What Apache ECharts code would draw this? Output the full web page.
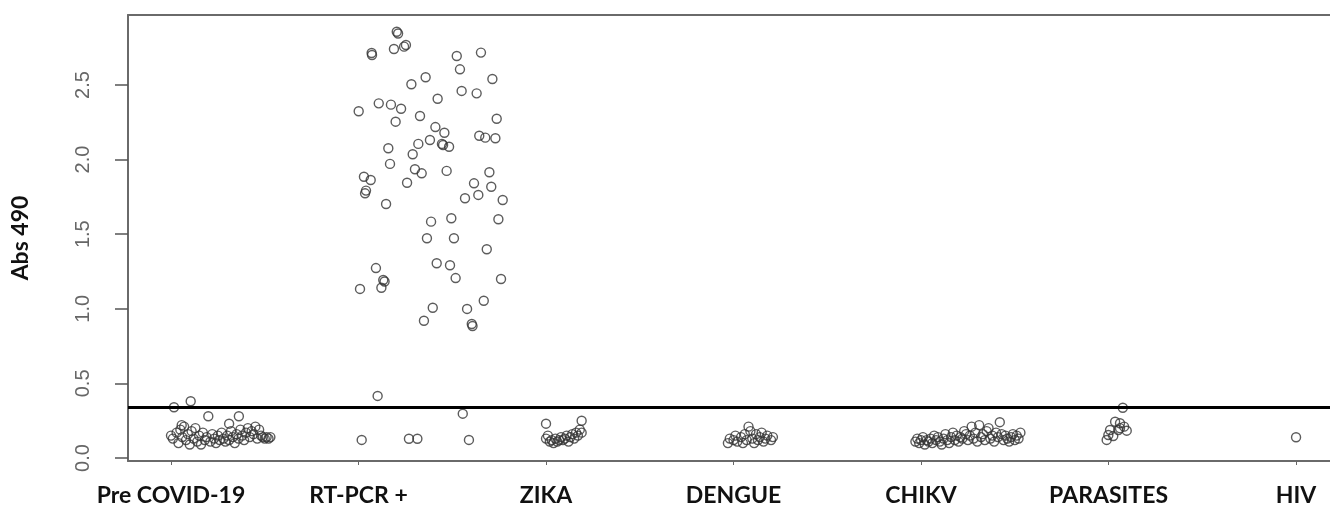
<!DOCTYPE html>
<html><head><meta charset="utf-8">
<script src="https://cdn.jsdelivr.net/npm/echarts@6/dist/echarts.min.js"></script>
<style>html,body{margin:0;padding:0;background:#fff}#c{width:1330px;height:508px}</style>
</head><body><div id="c"></div>
<script>
// Category labels and y ticks
const categories = ['Pre COVID-19', 'RT-PCR +', 'ZIKA', 'DENGUE', 'CHIKV', 'PARASITES', 'HIV'];
const yTicks = [0, 0.5, 1.0, 1.5, 2.0, 2.5];
const cutoff = 0.343;

// Each point: [jitter offset from category position, Abs 490 value]
const preCovid = [
  [0.016,0.34],[0.105,0.38],[0.199,0.28],[0.362,0.28],[0.31,0.23],[0.057,0.22],
  [0.00,0.15],[0.01,0.13],[0.03,0.17],[0.04,0.10],[0.05,0.19],[0.06,0.14],[0.07,0.21],[0.08,0.12],
  [0.09,0.16],[0.10,0.09],[0.11,0.18],[0.12,0.13],[0.13,0.20],[0.14,0.11],[0.15,0.15],[0.16,0.09],
  [0.17,0.17],[0.18,0.12],[0.19,0.14],[0.21,0.11],[0.22,0.16],[0.23,0.13],[0.24,0.10],[0.25,0.15],
  [0.26,0.12],[0.27,0.17],[0.28,0.13],[0.29,0.11],[0.30,0.15],[0.31,0.12],[0.32,0.18],[0.33,0.14],
  [0.34,0.10],[0.35,0.16],[0.36,0.13],[0.37,0.19],[0.38,0.15],[0.39,0.12],[0.40,0.17],[0.41,0.20],
  [0.42,0.14],[0.43,0.18],[0.44,0.16],[0.45,0.21],[0.46,0.13],[0.47,0.19],[0.48,0.15],[0.49,0.14],
  [0.50,0.13],[0.51,0.14],[0.52,0.13],[0.53,0.14]
];
const rtPcr = [
  [0.204,2.857],[0.211,2.845],[0.253,2.768],[0.243,2.757],[0.070,2.714],[0.072,2.701],[0.189,2.741],
  [0.524,2.694],[0.653,2.717],[0.541,2.605],[0.358,2.552],[0.282,2.505],[0.714,2.540],[0.550,2.460],
  [0.630,2.444],[0.422,2.408],[0.001,2.324],[0.108,2.377],[0.173,2.368],[0.227,2.341],[0.328,2.292],
  [0.198,2.254],[0.737,2.274],[0.410,2.218],[0.458,2.180],[0.644,2.160],[0.676,2.147],[0.730,2.143],
  [0.381,2.131],[0.319,2.105],[0.445,2.105],[0.451,2.098],[0.483,2.086],[0.159,2.076],[0.289,2.036],
  [0.168,1.971],[0.470,1.924],[0.698,1.915],[0.301,1.935],[0.337,1.908],[0.259,1.845],[0.616,1.841],
  [0.708,1.818],[0.029,1.885],[0.065,1.863],[0.040,1.792],[0.035,1.774],[0.147,1.702],[0.568,1.741],
  [0.639,1.763],[0.769,1.729],[0.387,1.584],[0.495,1.607],[0.746,1.600],[0.365,1.473],[0.509,1.473],
  [0.684,1.399],[0.417,1.305],[0.488,1.292],[0.518,1.206],[0.760,1.200],[0.093,1.273],[0.132,1.193],
  [0.139,1.183],[0.122,1.141],[0.008,1.133],[0.668,1.054],[0.396,1.007],[0.579,0.999],[0.349,0.920],
  [0.604,0.898],[0.608,0.885],[0.102,0.416],[0.556,0.297],[0.017,0.121],[0.269,0.129],[0.314,0.129],
  [0.589,0.121]
];
const zika = [
  [0.00,0.23],[0.00,0.13],[0.01,0.15],[0.02,0.11],[0.03,0.12],[0.04,0.10],[0.05,0.13],[0.06,0.11],
  [0.07,0.12],[0.08,0.14],[0.09,0.12],[0.10,0.13],[0.11,0.15],[0.12,0.11],[0.13,0.14],[0.14,0.16],
  [0.15,0.13],[0.16,0.17],[0.17,0.15],[0.18,0.19],[0.19,0.17],[0.19,0.25]
];
const dengue = [
  [-0.03,0.10],[-0.02,0.13],[0.00,0.12],[0.01,0.15],[0.02,0.11],[0.04,0.14],[0.05,0.10],[0.06,0.16],
  [0.07,0.12],[0.08,0.21],[0.09,0.18],[0.10,0.13],[0.11,0.10],[0.12,0.16],[0.13,0.12],[0.14,0.14],
  [0.15,0.17],[0.16,0.11],[0.17,0.13],[0.18,0.15],[0.20,0.12],[0.21,0.14]
];
const chikv = [
  [-0.03,0.11],[-0.02,0.13],[-0.01,0.10],[0.00,0.12],[0.01,0.14],[0.02,0.09],[0.03,0.12],[0.04,0.11],
  [0.05,0.13],[0.06,0.10],[0.07,0.15],[0.08,0.12],[0.09,0.14],[0.10,0.11],[0.11,0.09],[0.12,0.13],
  [0.13,0.16],[0.14,0.12],[0.15,0.10],[0.16,0.14],[0.17,0.17],[0.18,0.12],[0.19,0.15],[0.20,0.11],
  [0.21,0.14],[0.22,0.13],[0.23,0.18],[0.24,0.16],[0.25,0.12],[0.26,0.15],[0.27,0.21],[0.28,0.13],
  [0.29,0.17],[0.30,0.11],[0.31,0.22],[0.32,0.14],[0.33,0.16],[0.34,0.12],[0.35,0.18],[0.36,0.20],
  [0.37,0.13],[0.38,0.15],[0.39,0.11],[0.40,0.17],[0.41,0.14],[0.42,0.24],[0.43,0.16],[0.44,0.12],
  [0.45,0.15],[0.46,0.13],[0.47,0.11],[0.48,0.14],[0.49,0.16],[0.50,0.12],[0.51,0.15],[0.52,0.13],
  [0.53,0.17]
];
const parasites = [
  [0.076,0.337],[0.035,0.243],[0.061,0.233],[0.083,0.210],[0.008,0.188],[0.052,0.188],[0.097,0.183],
  [-0.001,0.154],[0.025,0.147],[-0.010,0.121],[0.061,0.200]
];
const hiv = [[0.0,0.139]];

const groups = [preCovid, rtPcr, zika, dengue, chikv, parasites, hiv];
const catPositions = categories.map((_, i) => i + 1);

const chart = echarts.init(document.getElementById('c'), null, {renderer: 'canvas'});
const frameColor = '#6a6a6a';
const series = groups.map((g, i) => ({
  type: 'scatter',
  name: categories[i],
  silent: true,
  symbol: 'circle',
  symbolSize: 9,
  itemStyle: {color: 'rgba(0,0,0,0)', borderColor: '#333', borderWidth: 1.4},
  data: g.map(p => [i + 1 + p[0], p[1]]),
  markLine: i === 0 ? {
    silent: true, symbol: 'none', animation: false,
    label: {show: false},
    lineStyle: {color: '#000', width: 3, type: 'solid'},
    data: [{yAxis: cutoff}]
  } : undefined
}));

const xMin = 0.7707, xMax = 7.181;
chart.setOption({
  animation: false,
  backgroundColor: '#fff',
  grid: {left: 128, top: 15, right: 0, bottom: 47},
  xAxis: [{
    type: 'value', min: xMin, max: xMax,
    splitLine: {show: false},
    minorTick: {show: false},
    axisLine: {show: true, onZero: false, lineStyle: {color: frameColor, width: 2}},
    axisTick: {show: true, customValues: catPositions, length: 4, lineStyle: {color: '#666'}},
    axisLabel: {
      customValues: catPositions,
      formatter: v => categories[Math.round(v) - 1],
      fontFamily: 'Lato', fontWeight: 'bold', fontSize: 23, color: '#111', margin: 23
    }
  }, {
    type: 'value', position: 'top', min: xMin, max: xMax,
    splitLine: {show: false},
    axisLine: {show: true, onZero: false, lineStyle: {color: frameColor, width: 2}},
    axisTick: {show: false}, axisLabel: {show: false}
  }],
  yAxis: {
    type: 'value', min: -0.0201, max: 2.969,
    splitLine: {show: false},
    axisLine: {show: true, onZero: false, lineStyle: {color: frameColor, width: 2}},
    axisTick: {show: true, customValues: yTicks, length: 13, lineStyle: {color: '#555', width: 1.5}},
    axisLabel: {
      customValues: yTicks, rotate: 90,
      formatter: v => v.toFixed(1),
      fontFamily: 'Liberation Sans', fontSize: 20, color: '#666', margin: 35
    },
    name: 'Abs 490', nameLocation: 'middle', nameRotate: 90, nameGap: 96,
    nameTextStyle: {fontFamily: 'Lato', fontWeight: 'bold', fontSize: 23, color: '#111'}
  },
  series: series
});
</script></body></html>
